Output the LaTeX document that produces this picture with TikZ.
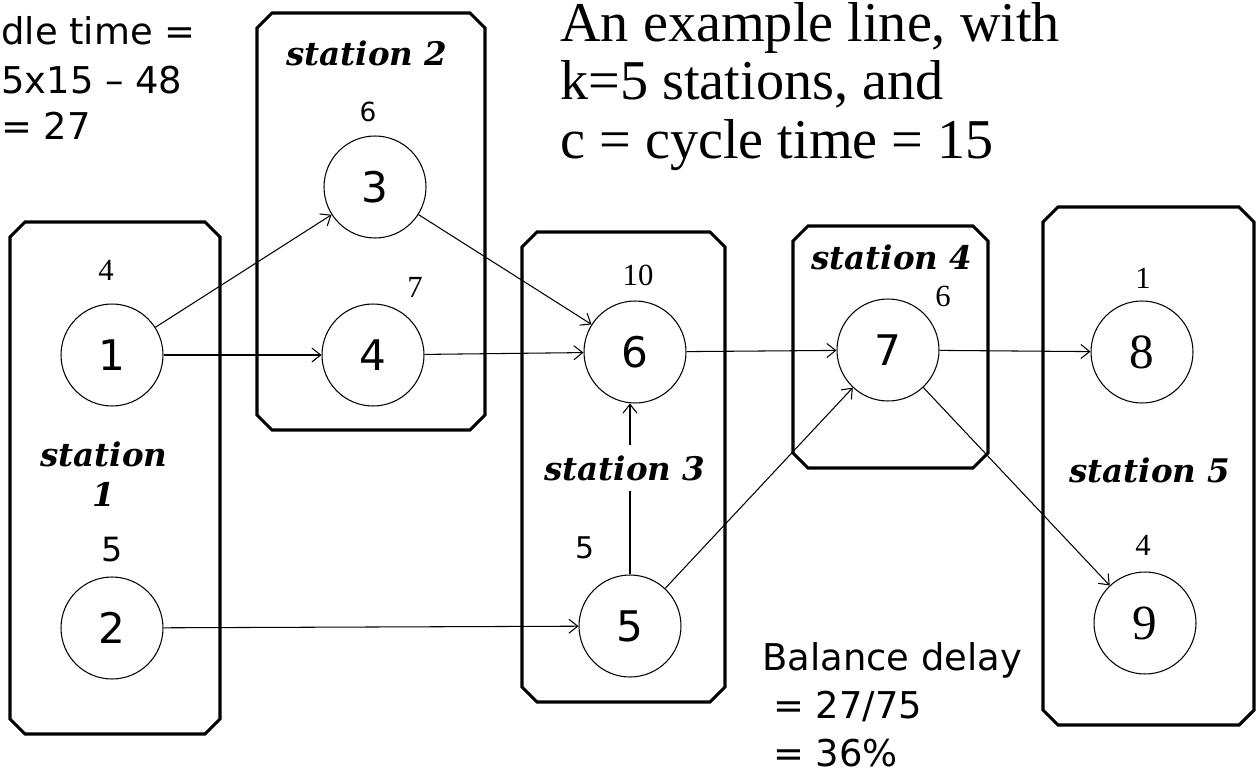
\documentclass[tikz,border=0pt]{standalone}
\usepackage{fontspec}
\setmainfont{Liberation Serif}
\newfontfamily\gen{DejaVu Sans}
\newfontfamily\stfont{DejaVu Serif}
\usetikzlibrary{arrows.meta}
\newcommand\stationbox[4]{\draw[stbox] (#1+15,#2) -- (#3-15,#2) -- (#3,#2+15) -- (#3,#4-15) -- (#3-15,#4) -- (#1+15,#4) -- (#1,#4-15) -- (#1,#2+15) -- cycle;}
\begin{document}
\begin{tikzpicture}[x=0.02cm,y=-0.02cm,
 task/.style={circle,draw,line width=0.6pt,minimum size=2.04cm,inner sep=0pt,font=\gen\fontsize{24}{24}\selectfont},
 stask/.style={task,font=\fontsize{28}{28}\selectfont},
 wt/.style={font=\gen\fontsize{17}{17}\selectfont,inner sep=0pt},
 swt/.style={font=\fontsize{17.5}{17.5}\selectfont,inner sep=0pt},
 stlabel/.style={font=\stfont\bfseries\itshape\fontsize{18.5}{23}\selectfont,inner sep=1pt,align=center},
 edge/.style={-{Straight Barb[length=5pt,width=8pt]},line width=0.6pt},
 stbox/.style={line width=1.8pt},
 gtext/.style={font=\gen\fontsize{21}{21}\selectfont,inner sep=0pt,anchor=base west},
 big/.style={font=\fontsize{32}{32}\selectfont,inner sep=0pt,anchor=base west}
]
\useasboundingbox (0,0) rectangle (1258,777);

% station boxes
\stationbox{10}{222}{220}{734}
\stationbox{257}{13}{485}{430}
\stationbox{522}{232}{725}{702}
\stationbox{793}{226}{988}{468}
\stationbox{1043}{207}{1254}{725}

% tasks
\node[task] (n1) at (112,355) {1};
\node[task] (n2) at (112,628) {2};
\node[task] (n3) at (375,187) {3};
\node[task] (n4) at (373,355) {4};
\node[task] (n5) at (630,626) {5};
\node[task] (n6) at (635,352) {6};
\node[task] (n7) at (888,350) {7};
\node[stask] (n8) at (1142,352) {8};
\node[stask] (n9) at (1145,623) {9};

% task times
\node[swt] (w1) at (106,270) {4};
\node[wt,font=\gen\fontsize{19}{19}\selectfont] (w2) at (112,550) {5};
\node[wt,font=\gen\fontsize{15}{15}\selectfont] (w3) at (368,112) {6};
\node[swt] (w4) at (415,287) {7};
\node[wt] (w5) at (585,548) {5};
\node[swt] (w6) at (638,275) {10};
\node[swt] (w7) at (943,296) {6};
\node[swt] (w8) at (1143,278) {1};
\node[swt] (w9) at (1143,545) {4};

% precedence arcs
\draw[edge] (n1) -- (n3);
\draw[edge] (n1) -- (n4);
\draw[edge] (n2) -- (n5);
\draw[edge] (n3) -- (n6);
\draw[edge] (n4) -- (n6);
\draw[edge] (n5.north) -- (n5.north |- n6.south);
\draw[edge] (n5) -- (n7);
\draw[edge] (n6) -- (n7);
\draw[edge] (n7) -- (n8);
\draw[edge] (n7) -- (n9);

% station labels
\node[stlabel] (s1) at (104,474) {station\\ 1};
\node[stlabel] (s2) at (367,53) {station 2};
\node[stlabel,fill=white,inner ysep=6pt] (s3) at (625,468) {station 3};
\node[stlabel] (s4) at (892,257) {station 4};
\node[stlabel] (s5) at (1150,470) {station 5};

% notes
\node[gtext] (i1) at (1,45) {dle time =};
\node[gtext] (i2) at (1,93) {5x15 – 48};
\node[gtext] (i3) at (1,140) {= 27};

\node[big] (t1) at (560,42) {An example line, with};
\node[big] (t2) at (560,100) {k=5 stations, and};
\node[big] (t3) at (560,158) {c = cycle time = 15};

\node[gtext] (b1) at (762,670) {Balance delay};
\node[gtext] (b2) at (773,718) {= 27/75};
\node[gtext] (b3) at (773,766) {= 36\%};
\end{tikzpicture}
\end{document}
